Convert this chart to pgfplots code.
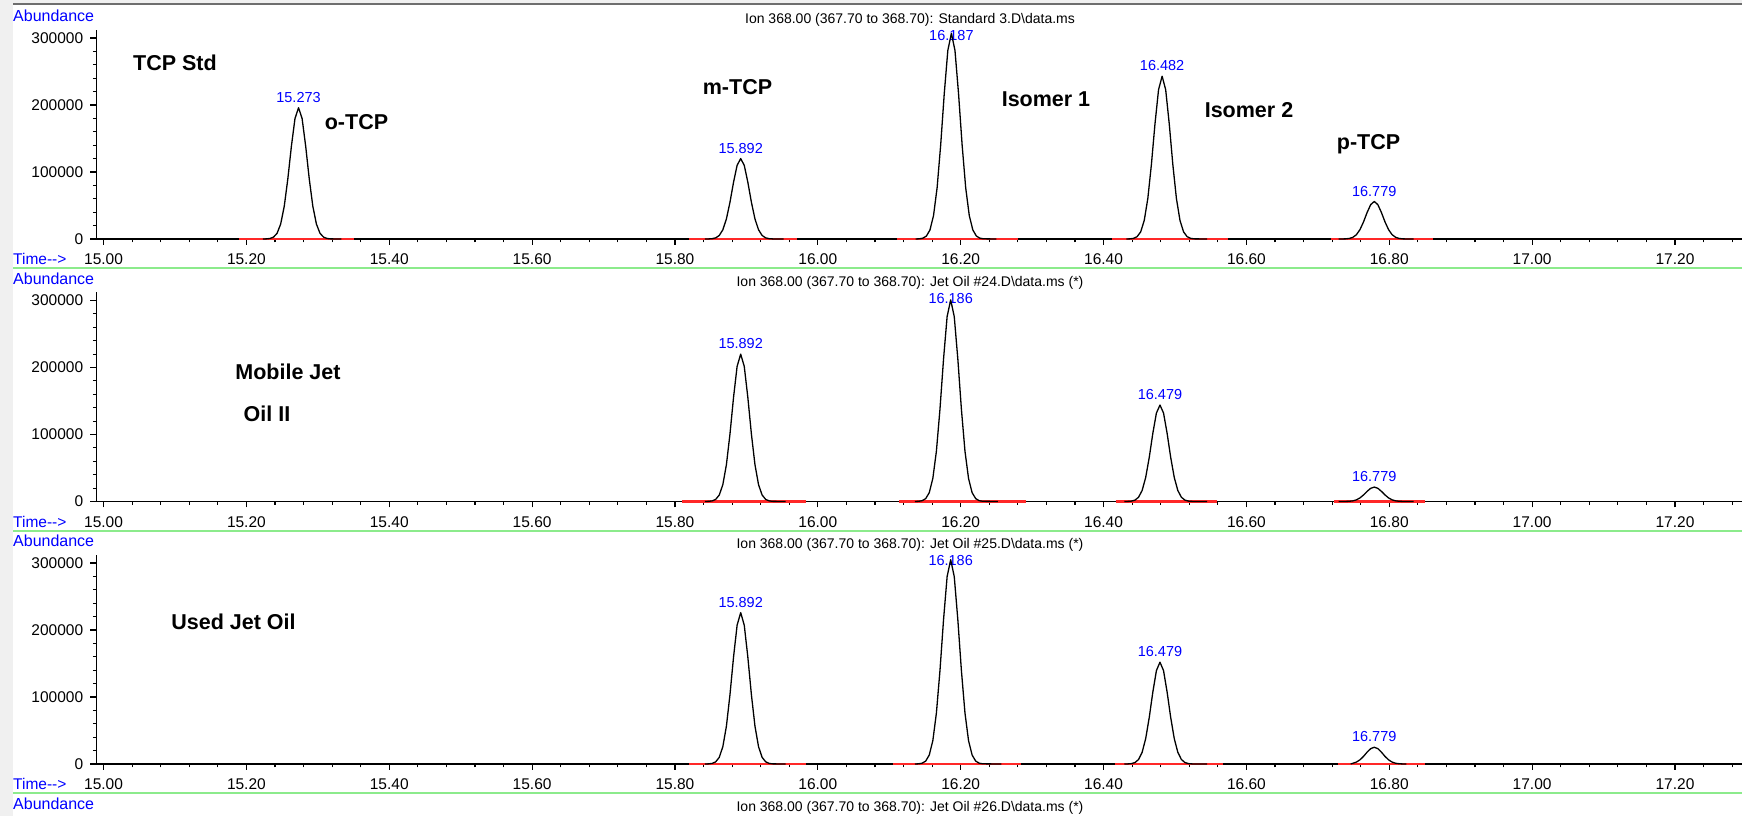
\documentclass[border=0pt]{standalone}
\usepackage{pgfplots}
\pgfplotsset{compat=1.18}
\usepackage{fontspec}
\setmainfont{Liberation Sans}
\definecolor{ablue}{RGB}{0,0,255}
\definecolor{lgreen}{RGB}{140,235,140}
\definecolor{bred}{RGB}{255,40,40}
\definecolor{lgray}{RGB}{240,240,240}
\definecolor{dgray}{RGB}{110,110,110}
\newcommand\reg{\fontsize{15.5}{17}\selectfont}
\newcommand\pk{\fontsize{14.5}{16}\selectfont}
\newcommand\tit{\fontsize{14}{16}\selectfont}
\newcommand\abf{\fontsize{16}{18}\selectfont}
\newcommand\bld{\fontsize{21.5}{24}\selectfont\bfseries}
\tikzset{
  red seg/.style={bred, line width=2.6pt},
  peak/.style={black, line width=1.3pt, line join=round},
  plab/.style={font=\pk, text=ablue, inner sep=0pt, anchor=south, yshift=5pt},
  tlab/.style={font=\pk, text=ablue, inner sep=0pt, anchor=north, yshift=-0.5pt},
}
\pgfplotsset{chrom/.style={
  scale only axis, width=1650pt, height=209pt,
  xmin=14.99, xmax=17.30, ymin=0, ymax=312000,
  axis lines=left, axis line style={-, line width=1.4pt, black},
  clip=false, scaled y ticks=false, scaled x ticks=false,
  xtick={15,15.2,15.4,15.6,15.8,16,16.2,16.4,16.6,16.8,17,17.2},
  xticklabels={15.00,15.20,15.40,15.60,15.80,16.00,16.20,16.40,16.60,16.80,17.00,17.20},
  minor xtick={15.04,15.08,...,17.29},
  ytick={0,100000,200000,300000},
  yticklabels={0,100000,200000,300000},
  minor ytick={20000,40000,...,300000},
  tick align=outside, major tick length=6pt, minor tick length=3.5pt,
  every tick/.append style={black, line width=1.2pt},
  every minor tick/.append style={black, line width=1.1pt},
  tick label style={font=\reg, black},
  xticklabel style={anchor=north, inner sep=0pt, yshift=-8.5pt},
  yticklabel style={anchor=east, inner sep=0pt, xshift=-7pt},
}}
\begin{document}
\begin{tikzpicture}[x=1pt,y=1pt]
\useasboundingbox (0,0) rectangle (1742,816);
\clip (0,0) rectangle (1742,816);
\fill[white] (0,0) rectangle (1742,816);
\fill[lgray] (0,0) rectangle (13,816);
\fill[lgray] (0,811.5) rectangle (1742,816);
\draw[dgray, line width=1.6pt] (13,811.7) -- (1742,811.7);
% green separators
\foreach \yy in {547.7,285.2,22.7} {\draw[lgreen, line width=2pt] (13,\yy) -- (1742,\yy);}
% Abundance / Time labels
\foreach \yy in {800,537.5,275,12.5} {\node[anchor=west, text=ablue, font=\abf, inner sep=0pt] at (13,\yy) {Abundance};}
\foreach \yy in {557,294.5,32} {\node[anchor=west, text=ablue, font=\reg, inner sep=0pt] at (13,\yy) {Time-{}-{}>};}
% titles
\node[font=\tit, inner sep=0pt] at (910,796) {Ion 368.00 (367.70 to 368.70): Standard 3.D\textbackslash data.ms};
\node[font=\tit, inner sep=0pt] at (910,533.5) {Ion 368.00 (367.70 to 368.70): Jet Oil \#24.D\textbackslash data.ms (*)};
\node[font=\tit, inner sep=0pt] at (910,271) {Ion 368.00 (367.70 to 368.70): Jet Oil \#25.D\textbackslash data.ms (*)};
\node[font=\tit, inner sep=0pt] at (910,8.5) {Ion 368.00 (367.70 to 368.70): Jet Oil \#26.D\textbackslash data.ms (*)};

% ---------------- Panel 1 ----------------
\begin{axis}[chrom, at={(96.4pt,577pt)}, anchor=south west]
\addplot[red seg] coordinates {(15.19,0) (15.35,0)};
\addplot[red seg] coordinates {(15.82,0) (15.971,0)};
\addplot[red seg] coordinates {(16.111,0) (16.28,0)};
\addplot[red seg] coordinates {(16.412,0) (16.574,0)};
\addplot[red seg] coordinates {(16.718,0) (16.861,0)};
\node[plab] at (axis cs:15.273,196000) {15.273};
\node[plab] at (axis cs:15.892,120000) {15.892};
\node[tlab] at (axis cs:16.187,312000) {16.187};
\node[plab] at (axis cs:16.482,243000) {16.482};
\node[plab] at (axis cs:16.779,56000) {16.779};
\addplot[peak] coordinates {(15.223,0)(15.228,180)(15.233,760)(15.238,2800)(15.243,8600)(15.248,22400)(15.253,48900)(15.258,89700)(15.263,138500)(15.268,179700)(15.273,196000)(15.278,179700)(15.283,138500)(15.288,89700)(15.293,48900)(15.298,22400)(15.303,8600)(15.308,2800)(15.313,760)(15.318,180)(15.333,0)};
\addplot[peak] coordinates {(15.842,0)(15.847,110)(15.852,470)(15.857,1700)(15.862,5270)(15.867,13700)(15.872,29900)(15.877,54900)(15.882,84800)(15.887,110000)(15.892,120000)(15.897,110000)(15.902,84800)(15.907,54900)(15.912,29900)(15.917,13700)(15.922,5270)(15.927,1700)(15.932,470)(15.937,110)(15.952,0)};
\addplot[peak] coordinates {(16.137,0)(16.142,280)(16.147,1200)(16.152,4360)(16.157,13500)(16.162,35100)(16.167,76600)(16.172,140500)(16.177,217000)(16.182,281500)(16.187,307000)(16.192,281500)(16.197,217000)(16.202,140500)(16.207,76600)(16.212,35100)(16.217,13500)(16.222,4360)(16.227,1200)(16.232,280)(16.250,0)};
\addplot[peak] coordinates {(16.432,0)(16.437,220)(16.442,950)(16.447,3450)(16.452,10700)(16.457,27800)(16.462,60600)(16.467,111200)(16.472,171700)(16.477,222800)(16.482,243000)(16.487,222800)(16.492,171700)(16.497,111200)(16.502,60600)(16.507,27800)(16.512,10700)(16.517,3450)(16.522,950)(16.527,220)(16.545,0)};
\addplot[peak] coordinates {(16.729,0)(16.734,50)(16.739,220)(16.744,800)(16.749,2460)(16.754,6400)(16.759,14000)(16.764,25600)(16.769,39600)(16.774,51300)(16.779,56000)(16.784,51300)(16.789,39600)(16.794,25600)(16.799,14000)(16.804,6400)(16.809,2460)(16.814,800)(16.819,220)(16.824,50)(16.834,0)};
\end{axis}

% ---------------- Panel 2 ----------------
\begin{axis}[chrom, at={(96.4pt,314.5pt)}, anchor=south west]
\addplot[red seg] coordinates {(15.81,0) (15.983,0)};
\addplot[red seg] coordinates {(16.114,0) (16.291,0)};
\addplot[red seg] coordinates {(16.417,0) (16.559,0)};
\addplot[red seg] coordinates {(16.723,0) (16.85,0)};
\node[plab] at (axis cs:15.892,220000) {15.892};
\node[tlab] at (axis cs:16.186,312000) {16.186};
\node[plab] at (axis cs:16.479,144000) {16.479};
\node[plab] at (axis cs:16.779,21500) {16.779};
\addplot[peak] coordinates {(15.842,0)(15.847,200)(15.852,860)(15.857,3120)(15.862,9660)(15.867,25100)(15.872,54900)(15.877,100700)(15.882,155500)(15.887,201700)(15.892,220000)(15.897,201700)(15.902,155500)(15.907,100700)(15.912,54900)(15.917,25100)(15.922,9660)(15.927,3120)(15.932,860)(15.937,200)(15.955,0)};
\addplot[peak] coordinates {(16.136,0)(16.141,270)(16.146,1170)(16.151,4270)(16.156,13200)(16.161,34400)(16.166,75100)(16.171,137800)(16.176,212700)(16.181,276000)(16.186,301000)(16.191,276000)(16.196,212700)(16.201,137800)(16.206,75100)(16.211,34400)(16.216,13200)(16.221,4270)(16.226,1170)(16.231,270)(16.252,0)};
\addplot[peak] coordinates {(16.429,0)(16.434,130)(16.439,560)(16.444,2040)(16.449,6320)(16.454,16400)(16.459,35900)(16.464,65900)(16.469,101800)(16.474,132000)(16.479,144000)(16.484,132000)(16.489,101800)(16.494,65900)(16.499,35900)(16.504,16400)(16.509,6320)(16.514,2040)(16.519,560)(16.524,130)(16.545,0)};
\addplot[peak] coordinates {(16.729,0)(16.734,20)(16.739,80)(16.744,310)(16.749,940)(16.754,2460)(16.759,5360)(16.764,9840)(16.769,15200)(16.774,19700)(16.779,21500)(16.784,19700)(16.789,15200)(16.794,9840)(16.799,5360)(16.804,2460)(16.809,940)(16.814,310)(16.819,80)(16.824,20)(16.834,0)};
\end{axis}

% ---------------- Panel 3 ----------------
\begin{axis}[chrom, at={(96.4pt,52pt)}, anchor=south west]
\addplot[red seg] coordinates {(15.82,0) (15.983,0)};
\addplot[red seg] coordinates {(16.105,0) (16.284,0)};
\addplot[red seg] coordinates {(16.416,0) (16.567,0)};
\addplot[red seg] coordinates {(16.728,0) (16.85,0)};
\node[plab] at (axis cs:15.892,226000) {15.892};
\node[tlab] at (axis cs:16.186,312000) {16.186};
\node[plab] at (axis cs:16.479,152000) {16.479};
\node[plab] at (axis cs:16.779,25000) {16.779};
\addplot[peak] coordinates {(15.842,0)(15.847,200)(15.852,880)(15.857,3210)(15.862,9920)(15.867,25800)(15.872,56400)(15.877,103500)(15.882,159700)(15.887,207200)(15.892,226000)(15.897,207200)(15.902,159700)(15.907,103500)(15.912,56400)(15.917,25800)(15.922,9920)(15.927,3210)(15.932,880)(15.937,200)(15.955,0)};
\addplot[peak] coordinates {(16.136,0)(16.141,270)(16.146,1190)(16.151,4330)(16.156,13400)(16.161,34800)(16.166,76100)(16.171,139600)(16.176,215500)(16.181,279700)(16.186,305000)(16.191,279700)(16.196,215500)(16.201,139600)(16.206,76100)(16.211,34800)(16.216,13400)(16.221,4330)(16.226,1190)(16.231,270)(16.257,0)};
\addplot[peak] coordinates {(16.429,0)(16.434,140)(16.439,590)(16.444,2160)(16.449,6670)(16.454,17400)(16.459,37900)(16.464,69600)(16.469,107400)(16.474,139400)(16.479,152000)(16.484,139400)(16.489,107400)(16.494,69600)(16.499,37900)(16.504,17400)(16.509,6670)(16.514,2160)(16.519,590)(16.524,140)(16.545,0)};
\addplot[peak] coordinates {(16.746,0)(16.749,1100)(16.754,2860)(16.759,6240)(16.764,11400)(16.769,17700)(16.774,22900)(16.779,25000)(16.784,22900)(16.789,17700)(16.794,11400)(16.799,6240)(16.804,2860)(16.809,1100)(16.814,360)(16.819,100)(16.824,0)};
\end{axis}

% bold annotations
\node[font=\bld, inner sep=0pt] at (175,753) {TCP Std};
\node[font=\bld, inner sep=0pt] at (356.5,694) {o-TCP};
\node[font=\bld, inner sep=0pt] at (737.5,729) {m-TCP};
\node[font=\bld, inner sep=0pt] at (1046,717) {Isomer 1};
\node[font=\bld, inner sep=0pt] at (1249,706) {Isomer 2};
\node[font=\bld, inner sep=0pt] at (1368.5,672) {p-TCP};
\node[font=\bld, inner sep=0pt] at (288,444) {Mobile Jet};
\node[font=\bld, inner sep=0pt] at (267,402) {Oil II};
\node[font=\bld, inner sep=0pt] at (233.5,194) {Used Jet Oil};
\end{tikzpicture}
\end{document}
